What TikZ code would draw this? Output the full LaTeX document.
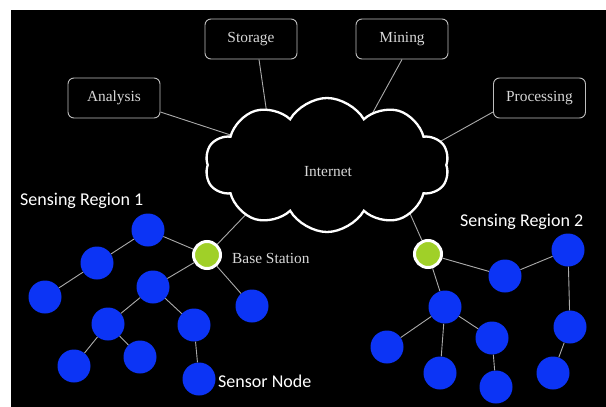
\documentclass[tikz,border=0pt]{standalone}
\usepackage{fontspec}
\setmainfont{Liberation Serif}
\newfontfamily\calfont{Carlito}
\usetikzlibrary{shapes.symbols}
\definecolor{sblue}{RGB}{12,52,245}
\definecolor{bsgreen}{RGB}{160,208,40}
\definecolor{boxline}{RGB}{190,190,190}
\definecolor{wirecol}{RGB}{170,170,170}
\definecolor{txtgrey}{RGB}{215,215,215}
\begin{document}
\begin{tikzpicture}[x=1pt,y=-1pt,
  box/.style={draw=boxline, fill=black, line width=0.9pt, rounded corners=6pt, minimum width=92pt, minimum height=40pt, text=txtgrey, font=\fontsize{15.4}{16}\selectfont, inner sep=0pt},
  sensor/.style={circle, fill=sblue, minimum size=33pt, inner sep=0pt},
  basest/.style={circle, fill=bsgreen, draw=white, line width=3pt, minimum size=27pt, inner sep=0pt},
  wire/.style={draw=wirecol, line width=0.9pt},
  lab/.style={text=white, font=\calfont\fontsize{18}{20}\selectfont, inner sep=0pt},
  serlab/.style={text=txtgrey, font=\fontsize{15.4}{16}\selectfont, inner sep=0pt},
  cloudst/.style={cloud, cloud puffs=10, cloud puff arc=120, aspect=1.9, minimum width=244pt, minimum height=134pt, draw=white, fill=black, line width=2.3pt, inner sep=0pt}
]
\useasboundingbox (0,0) rectangle (606,407);
\fill[white] (0,0) rectangle (606,407);
\fill[black] (11,10) rectangle (606,407);

% boxes
\node[box] (analysis) at (114,98) {Analysis};
\node[box] (storage) at (251,39) {Storage};
\node[box] (mining) at (402,39) {Mining};
\node[box] (processing) at (539.5,98) {Processing};

% base stations
\node[basest] (bs1) at (207,255) {};
\node[basest] (bs2) at (428,254) {};

% cloud contact points (inside cloud)
\coordinate (ca) at (255,143);
\coordinate (cs) at (270,135);
\coordinate (cm) at (366,125);
\coordinate (cp) at (425,150);
\coordinate (cb1) at (255,205);
\coordinate (cb2) at (404,200);

\draw[wire] ([yshift=-14pt]analysis.east) -- (ca);
\draw[wire] ([xshift=8pt]storage.south) -- (cs);
\draw[wire] (mining.south) -- (cm);
\draw[wire] ([yshift=-14pt]processing.west) -- (cp);
\draw[wire] (bs1) -- (cb1);
\draw[wire] (bs2) -- (cb2);

% cloud
\node[cloudst] (internet) at (327,165) {};
\node[serlab] (inettxt) at (328,172) {Internet};

% region 1 sensors
\node[sensor] (a) at (148,230) {};
\node[sensor] (b) at (97,263) {};
\node[sensor] (c) at (45,297) {};
\node[sensor] (d) at (153,287) {};
\node[sensor] (j) at (252,306) {};
\node[sensor] (e) at (108,324) {};
\node[sensor] (h) at (194,325) {};
\node[sensor] (f) at (74,366) {};
\node[sensor] (g) at (140,357) {};
\node[sensor] (i) at (199,379) {};

\draw[wire] (bs1) -- (a);
\draw[wire] (a) -- (b);
\draw[wire] (b) -- (c);
\draw[wire] (bs1) -- (d);
\draw[wire] (d) -- (e);
\draw[wire] (e) -- (f);
\draw[wire] (e) -- (g);
\draw[wire] (d) -- (h);
\draw[wire] (h) -- (i);
\draw[wire] (bs1) -- (j);

% region 2 sensors
\node[sensor] (k) at (505,276) {};
\node[sensor] (l) at (568,250) {};
\node[sensor] (m) at (570,327) {};
\node[sensor] (n) at (553,373) {};
\node[sensor] (o) at (445,307) {};
\node[sensor] (p) at (387,347) {};
\node[sensor] (q) at (440,373) {};
\node[sensor] (r) at (492,338) {};
\node[sensor] (s) at (496,387) {};

\draw[wire] (bs2) -- (k);
\draw[wire] (k) -- (l);
\draw[wire] (l) -- (m);
\draw[wire] (m) -- (n);
\draw[wire] (bs2) -- (o);
\draw[wire] (o) -- (p);
\draw[wire] (o) -- (q);
\draw[wire] (o) -- (r);
\draw[wire] (r) -- (s);

% labels
\node[lab, anchor=base west] (sr1) at (20,205) {Sensing Region 1};
\node[lab, anchor=base west] (sr2) at (460,226) {Sensing Region 2};
\node[lab, anchor=base west] (sn) at (218,387) {Sensor Node};
\node[serlab, anchor=base west] (bslab) at (232,263) {Base Station};
\end{tikzpicture}
\end{document}
